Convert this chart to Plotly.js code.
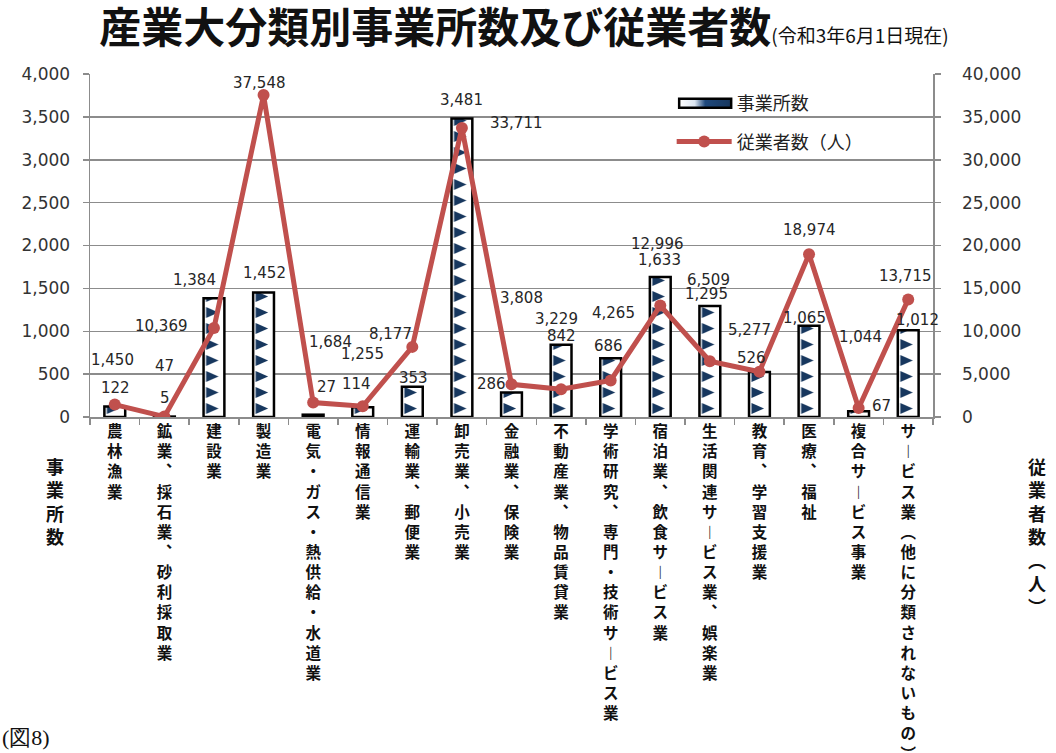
<!DOCTYPE html>
<html>
<head>
<meta charset="utf-8">
<script src="https://cdn.plot.ly/plotly-3.0.1.min.js"></script>
<style>
  html, body { margin: 0; padding: 0; background: #fff; }
  #chart { width: 1056px; height: 753px; }
</style>
</head>
<body>
<div id="chart"></div>
<script>
// ---- data ----
const categories = [
  "農林漁業",
  "鉱業、採石業、砂利採取業",
  "建設業",
  "製造業",
  "電気・ガス・熱供給・水道業",
  "情報通信業",
  "運輸業、郵便業",
  "卸売業、小売業",
  "金融業、保険業",
  "不動産業、物品賃貸業",
  "学術研究、専門・技術サービス業",
  "宿泊業、飲食サービス業",
  "生活関連サービス業、娯楽業",
  "教育、学習支援業",
  "医療、福祉",
  "複合サービス事業",
  "サービス業（他に分類されないもの）"
];
const establishments = [122, 5, 1384, 1452, 27, 114, 353, 3481, 286, 842, 686, 1633, 1295, 526, 1065, 67, 1012];
const employees = [1450, 47, 10369, 37548, 1684, 1255, 8177, 33711, 3808, 3229, 4265, 12996, 6509, 5277, 18974, 1044, 13715];
const seriesNames = ["事業所数", "従業者数（人）"];
const leftAxisTitle = "事業所数";
const rightAxisTitle = "従業者数（人）";
const chartTitle = "産業大分類別事業所数及び従業者数";
const chartSubtitle = "(令和3年6月1日現在)";
const figureNote = "(図8)";

// ---- label placement (pixel offsets from each mark: [dx, dy up]) ----
const barLabelShift = [[1,19],[1,19],[-19,18],[1,19],[13,28],[-6,23],[1,9],[0,19],[-20,8],[0,9],[-2,12],[-1,17],[-3,12],[-8,14],[-5,8],[23,5],[9,10]];
const lineLabelShift = [[-2,45],[0,51],[-52,2],[-4,12],[17,61],[0,52],[-22,13],[55,5],[10,86],[-5,70],[3,67],[-3,62],[-1,81],[-10,42],[0,24],[2,71],[-3,23]];

const CJK = "'Noto Sans CJK JP', 'Noto Sans', sans-serif";
const NUM = "'DejaVu Sans', Verdana, sans-serif";
const GRID = "#8c8c8c";
const RED = "#C0504D";
const NAVY = "#17375E";

function vertical(s) {
  const map = { "ー": "︱", "、": "︑", "（": "︵", "）": "︶", "(": "︵", ")": "︶" };
  return Array.from(s).map(c => map[c] || c).join("<br>");
}
const fmt = v => v.toLocaleString("en-US");

const traces = [
  {
    type: "bar",
    x: categories,
    y: establishments,
    name: seriesNames[0],
    width: 0.42,
    marker: { color: "#ffffff", line: { color: "#000000", width: 2.5 } },
    legendgroup: "a",
    hoverinfo: "skip"
  },
  {
    type: "scatter",
    mode: "lines+markers",
    x: categories,
    y: employees,
    yaxis: "y2",
    name: seriesNames[1],
    line: { color: RED, width: 5 },
    marker: { color: RED, size: 12 },
    legendgroup: "b",
    hoverinfo: "skip"
  }
];

const annotations = [];
categories.forEach((c, i) => {
  annotations.push({
    x: c, y: establishments[i], xref: "x", yref: "y",
    text: fmt(establishments[i]), showarrow: false,
    xanchor: "center", yanchor: "middle",
    xshift: barLabelShift[i][0], yshift: barLabelShift[i][1],
    font: { family: NUM, size: 15, color: "#262626" }
  });
  annotations.push({
    x: c, y: employees[i], xref: "x", yref: "y2",
    text: fmt(employees[i]), showarrow: false,
    xanchor: "center", yanchor: "middle",
    xshift: lineLabelShift[i][0], yshift: lineLabelShift[i][1],
    font: { family: NUM, size: 15, color: "#262626" }
  });
});
annotations.push({
  xref: "paper", yref: "paper", x: -0.042, y: -0.1, xanchor: "center", yanchor: "top",
  text: vertical(leftAxisTitle), showarrow: false,
  font: { family: CJK, size: 18, color: "#111", weight: "bold" }
});
annotations.push({
  xref: "paper", yref: "paper", x: 1.123, y: -0.1, xanchor: "center", yanchor: "top",
  text: vertical(rightAxisTitle), showarrow: false,
  font: { family: CJK, size: 18, color: "#111", weight: "bold" }
});
annotations.push({
  xref: "paper", yref: "paper", x: -0.107, y: -0.935, xanchor: "left", yanchor: "middle",
  text: figureNote, showarrow: false,
  font: { family: "'Liberation Serif', 'DejaVu Serif', serif", size: 22, color: "#111" }
});

const layout = {
  width: 1056, height: 753,
  margin: { l: 90, r: 123, t: 74, b: 336, pad: 0 },
  paper_bgcolor: "#ffffff", plot_bgcolor: "#ffffff",
  title: {
    text: chartTitle + "<span style='font-size:19px;font-weight:normal'>" + chartSubtitle + "</span>",
    x: 0.094, xanchor: "left", xref: "container",
    y: 0.962, yanchor: "middle", yref: "container",
    font: { family: CJK, size: 42, color: "#111", weight: "bold" }
  },
  showlegend: true,
  legend: {
    x: 0.69, y: 0.968, xanchor: "left", yanchor: "top",
    bgcolor: "rgba(0,0,0,0)", borderwidth: 0,
    traceorder: "grouped", tracegroupgap: 12, itemwidth: 55,
    font: { family: CJK, size: 18, color: "#222" }
  },
  xaxis: {
    type: "category", range: [-0.5, 16.5],
    tickvals: categories, ticktext: categories.map(vertical),
    tickangle: 0, automargin: false,
    tickfont: { family: CJK, size: 15.5, color: "#111", weight: "bold" },
    showline: true, linecolor: GRID, linewidth: 1.5,
    ticks: "outside", ticklen: 6, tickcolor: GRID, tickwidth: 1.5, tickson: "boundaries",
    showgrid: false, zeroline: false
  },
  yaxis: {
    range: [0, 4000], dtick: 500, tickformat: ",d",
    showgrid: true, gridcolor: GRID, gridwidth: 1.5,
    showline: true, linecolor: GRID, linewidth: 1.5,
    ticks: "outside", ticklen: 6, tickcolor: GRID, tickwidth: 1.5,
    ticklabelstandoff: 9,
    tickfont: { family: NUM, size: 17, color: "#333" },
    zeroline: false, automargin: false
  },
  yaxis2: {
    overlaying: "y", side: "right",
    range: [0, 40000], dtick: 5000, tickformat: ",d",
    showgrid: false,
    showline: true, linecolor: GRID, linewidth: 1.5,
    ticks: "outside", ticklen: 6, tickcolor: GRID, tickwidth: 1.5,
    ticklabelstandoff: 18,
    tickfont: { family: NUM, size: 17, color: "#333" },
    zeroline: false, automargin: false
  },
  annotations: annotations
};

const SVGNS = "http://www.w3.org/2000/svg";
function decorate(gd) {
  // triangle fill for bars, aligned to each bar
  const paths = gd.querySelectorAll(".barlayer .trace.bars .point path");
  paths.forEach((p, i) => {
    const bb = p.getBBox();
    if (!bb.width || !bb.height) return;
    const parent = p.parentNode;
    let defs = parent.querySelector("defs.tri");
    if (!defs) { defs = document.createElementNS(SVGNS, "defs"); defs.setAttribute("class", "tri"); parent.insertBefore(defs, parent.firstChild); }
    const id = "triPat" + i;
    const old = document.getElementById(id); if (old) old.remove();
    const pat = document.createElementNS(SVGNS, "pattern");
    pat.setAttribute("id", id);
    pat.setAttribute("patternUnits", "userSpaceOnUse");
    const th = 16;
    pat.setAttribute("x", bb.x);
    pat.setAttribute("y", bb.y + bb.height);
    pat.setAttribute("width", bb.width);
    pat.setAttribute("height", th);
    const bg = document.createElementNS(SVGNS, "rect");
    bg.setAttribute("x", 0); bg.setAttribute("y", 0);
    bg.setAttribute("width", bb.width); bg.setAttribute("height", th);
    bg.setAttribute("fill", "#ffffff");
    pat.appendChild(bg);
    const tri = document.createElementNS(SVGNS, "path");
    const w = bb.width;
    tri.setAttribute("d", "M" + (w * 0.12) + ",2 L" + (w * 0.72) + ",7.5 L" + (w * 0.12) + ",13 Z");
    tri.setAttribute("fill", NAVY);
    pat.appendChild(tri);
    defs.appendChild(pat);
    p.style.fill = "url(#" + id + ")";
  });
  // wide legend swatch for bars
  const legendTraces = gd.querySelectorAll(".legend .traces");
  if (legendTraces.length) {
    const sw = legendTraces[0].querySelector(".legendpoints path");
    if (sw) {
      const svg = gd.querySelector(".main-svg");
      let defs = svg.querySelector("defs");
      if (!document.getElementById("legGrad")) {
        const g = document.createElementNS(SVGNS, "linearGradient");
        g.setAttribute("id", "legGrad");
        g.setAttribute("x1", "0"); g.setAttribute("x2", "1"); g.setAttribute("y1", "0"); g.setAttribute("y2", "0");
        [["0", "#ffffff"], ["0.3", "#dce6f2"], ["0.5", "#1f497d"], ["1", NAVY]].forEach(([o, c]) => {
          const s = document.createElementNS(SVGNS, "stop");
          s.setAttribute("offset", o); s.setAttribute("stop-color", c);
          g.appendChild(s);
        });
        defs.appendChild(g);
      }
      sw.setAttribute("d", "M-25,-4.5H27V4.5H-25Z");
      sw.style.fill = "url(#legGrad)";
      sw.style.stroke = "#000";
      sw.style.strokeWidth = "2.5px";
    }
  }
}

Plotly.newPlot("chart", traces, layout, { displayModeBar: false, staticPlot: true }).then(gd => {
  decorate(gd);
});
</script>
</body>
</html>
